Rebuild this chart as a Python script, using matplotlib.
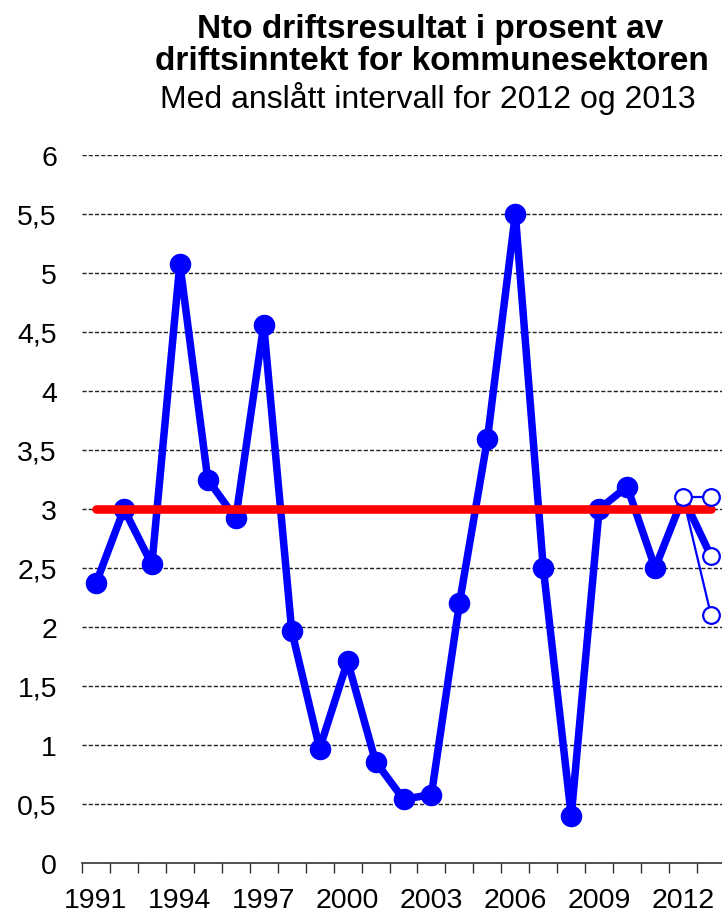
import matplotlib
matplotlib.use("Agg")
import matplotlib.pyplot as plt

plt.rcParams["font.family"] = ["Liberation Sans", "DejaVu Sans"]

# Main series, 1991-2011
years = list(range(1991, 2012))
values = [2.37, 3.0, 2.53, 5.08, 3.25, 2.92, 4.56, 1.97, 0.97, 1.71,
          0.86, 0.54, 0.58, 2.2, 3.59, 5.5, 2.5, 0.4, 3.0, 3.19, 2.5]

# Estimated interval for 2012 and 2013
mid_years = [2011, 2012, 2013]
mid_values = [2.5, 3.1, 2.6]
high_years = [2012, 2013]
high_values = [3.1, 3.1]
low_years = [2012, 2013]
low_values = [3.1, 2.1]

# Target level
target_years = [1991, 2013]
target_values = [3.0, 3.0]

yticks = [0, 0.5, 1, 1.5, 2, 2.5, 3, 3.5, 4, 4.5, 5, 5.5, 6]
ytick_labels = ["0", "0,5", "1", "1,5", "2", "2,5", "3", "3,5", "4", "4,5", "5", "5,5", "6"]
xtick_years = [1991, 1994, 1997, 2000, 2003, 2006, 2009, 2012]

BLUE = "#0000FF"
RED = "#FF0000"

fig = plt.figure(figsize=(7.22, 9.12), dpi=100)
ax = fig.add_axes([82 / 722, 48 / 912, 643 / 722, 708 / 912])

# grid lines
for y in yticks[1:]:
    ax.axhline(y, color="#222222", lw=1.0, ls=(0, (3, 1.5)), zorder=1)

ax.plot(years, values, color=BLUE, lw=5.4, marker="o", ms=14.5,
        solid_joinstyle="round", zorder=3, clip_on=False)
ax.plot(mid_years, mid_values, color=BLUE, lw=5.4, solid_joinstyle="round",
        solid_capstyle="round", zorder=3, clip_on=False)
ax.plot(high_years, high_values, color=BLUE, lw=1.6, zorder=3, clip_on=False)
ax.plot(low_years, low_values, color=BLUE, lw=1.6, zorder=3, clip_on=False)

ax.plot(target_years, target_values, color=RED, lw=6.2, solid_capstyle="round",
        zorder=4, clip_on=False)

open_x = [2012, 2013, 2013, 2013]
open_y = [3.1, 3.1, 2.6, 2.1]
ax.plot(open_x, open_y, ls="none", marker="o", ms=12, mfc="white",
        mec=BLUE, mew=1.6, zorder=5, clip_on=False)

ax.set_xlim(1990.5, 2013.5)
ax.set_ylim(0, 6)

ax.set_yticks(yticks)
ax.set_yticklabels(ytick_labels, fontsize=20.5)
ax.tick_params(axis="y", length=0, pad=18)

ax.set_xticks(xtick_years)
ax.set_xticklabels([str(y) for y in xtick_years], fontsize=20.5)
ax.set_xticks([y + 0.5 for y in range(1990, 2014)], minor=True)
ax.tick_params(axis="x", which="major", length=0, pad=17)
ax.tick_params(axis="x", which="minor", length=7, width=1, color="#333333")

for side in ["left", "right", "top"]:
    ax.spines[side].set_visible(False)
ax.spines["bottom"].set_color("#333333")
ax.spines["bottom"].set_linewidth(1.2)

fig.text(430 / 722, 1 - 38 / 912, "Nto driftsresultat i prosent av",
         ha="center", va="baseline", fontsize=24, fontweight="bold")
fig.text(432 / 722, 1 - 70 / 912, "driftsinntekt for kommunesektoren",
         ha="center", va="baseline", fontsize=24, fontweight="bold")
fig.text(428 / 722, 1 - 108 / 912, "Med anslått intervall for 2012 og 2013",
         ha="center", va="baseline", fontsize=23)

fig.savefig("out.png", dpi=100)
